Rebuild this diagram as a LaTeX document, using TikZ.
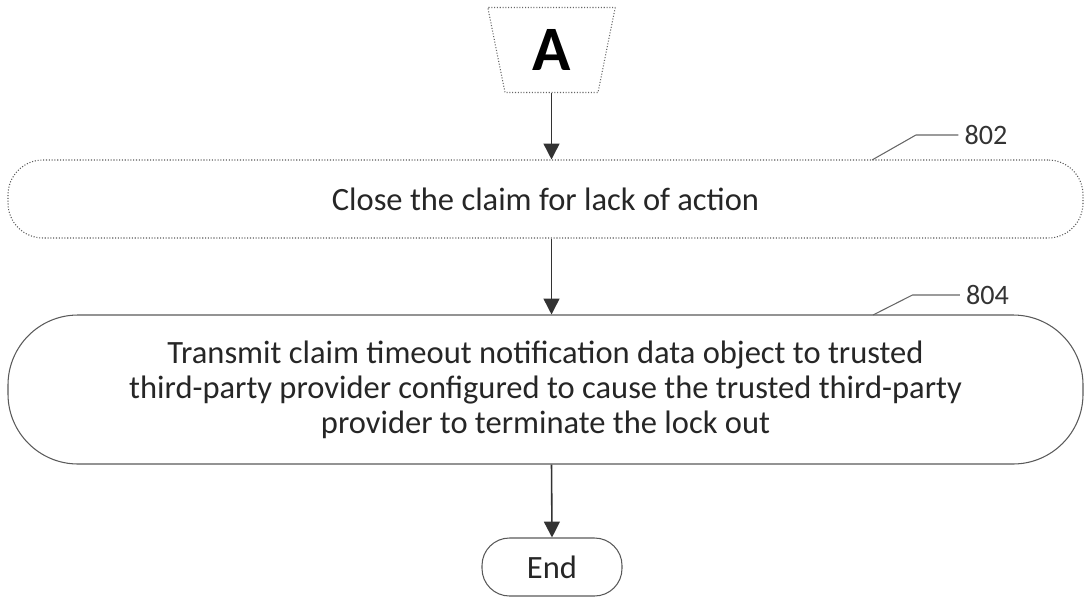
\documentclass[tikz,border=0pt]{standalone}
\usepackage{fontspec}
\setmainfont{Carlito}
\usepackage{tikz}
\usetikzlibrary{shapes.geometric}
\usetikzlibrary{arrows.meta}

\tikzset{
  flowbox/.style={draw=black!65, line width=0.6pt, text=black!85, font=\fontsize{18.5}{20}\selectfont, align=center, inner sep=0pt},
  flowarrow/.style={draw=black!80, line width=0.9pt, -{Triangle[length=9pt,width=9pt]}},
  refnum/.style={text=black!80, font=\fontsize{16}{18}\selectfont},
  leader/.style={draw=black!60, line width=0.6pt}
}

\begin{document}
\begin{tikzpicture}
				\useasboundingbox (0,0) rectangle (21.8,-12.12);
				\node[trapezium, shape border rotate=180, trapezium angle=80, trapezium stretches=true, minimum width=2.56cm, minimum height=1.7cm, draw=black!60, densely dotted, line width=0.6pt, font=\fontsize{36}{40}\selectfont\bfseries] (A) at (11.03,-1.0) {A};
				\node[flowbox, rounded corners=0.7cm, densely dotted, minimum width=21.5cm, minimum height=1.56cm] (b802) at (10.91,-3.98) {Close the claim for lack of action};
				\node[flowbox, rounded corners=1.4cm, minimum width=21.5cm, minimum height=2.98cm] (b804) at (10.91,-7.79) {Transmit claim timeout notification data object to trusted\\third-party provider configured to cause the trusted third-party\\provider to terminate the lock out};
				\node[flowbox, rounded corners=0.55cm, minimum width=2.8cm, minimum height=1.16cm] (end) at (11.04,-11.34) {End};
				% step numbers
				\node[refnum] (n802) at (19.72,-2.70) {802};
				\node[refnum] (n804) at (19.75,-5.90) {804};
				\coordinate (t802) at (17.44,-3.20);
				\coordinate (t804) at (17.46,-6.30);
				\draw[leader] (n802.west) -- ++(-0.85,0) -- (t802);
				\draw[leader] (n804.west) -- ++(-0.95,0) -- (t804);
				% flow
				\draw[flowarrow] (A.south) -- (A.south |- b802.north);
				\draw[flowarrow] (A.south |- b802.south) -- (A.south |- b804.north);
				\draw[flowarrow] (A.south |- b804.south) -- (end.north);
			\end{tikzpicture}
\end{document}
